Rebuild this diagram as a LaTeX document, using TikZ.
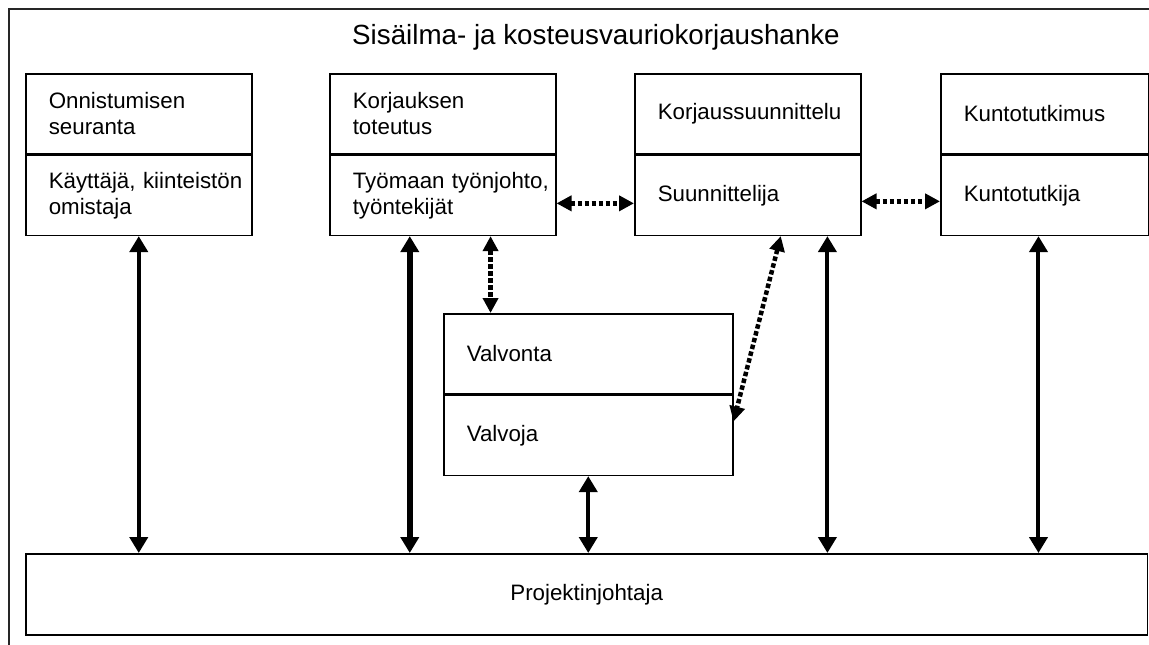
\documentclass[tikz,border=0pt]{standalone}
\usepackage{fontspec}
\setmainfont{Liberation Sans}
\usetikzlibrary{arrows.meta}
\usetikzlibrary{calc}

\begin{document}
\begin{tikzpicture}[x=0.02cm, y=-0.02cm,
    cell/.style={rectangle, draw, line width=0.9pt, anchor=north west, inner xsep=0.46cm, inner ysep=0pt,
      text width=3.6cm, minimum height=1.6cm, align=left, font=\fontsize{12.7}{14.8}\selectfont},
    link/.style={<->, >={Triangle[length=0.32cm, width=0.36cm]}, line width=0.08cm},
    talk/.style={<->, >={Triangle[length=0.3cm, width=0.3cm]}, line width=0.09cm, dash pattern=on 0.09cm off 0.05cm}]
        \clip (0,0) rectangle (1149,645);
        \draw[line width=1pt, black!85] (9,9) rectangle (1170,670);

        \node[font=\fontsize{15.8}{19}\selectfont] (hanke) at (596,37) {Sisäilma- ja kosteusvauriokorjaushanke};

        \node[cell] (seuranta) at (25,73) {Onnistumisen\\seuranta};
        \node[cell] (kayttaja) at (seuranta.south west) {\mbox{Käyttäjä, kiinteistön}\\omistaja};
        \node[cell] (toteutus) at (329,73) {Korjauksen\\toteutus};
        \node[cell] (tyonjohto) at (toteutus.south west) {\mbox{Työmaan työnjohto,}\\työntekijät};
        \node[cell] (korjaus) at (634,73) {\mbox{Korjaussuunnittelu}};
        \node[cell] (suunnittelija) at (korjaus.south west) {Suunnittelija};
        \node[cell, text width=3.24cm] (kunto) at (940,73) {Kuntotutkimus};
        \node[cell, text width=3.24cm] (tutkija) at (kunto.south west) {Kuntotutkija};
        \node[cell, text width=4.86cm] (valvonta) at (443,313) {Valvonta};
        \node[cell, text width=4.86cm] (valvoja) at (valvonta.south west) {Valvoja};
        \node[rectangle, draw, line width=0.9pt, anchor=north west, minimum width=22.44cm, minimum height=1.62cm,
          font=\fontsize{12.7}{14.8}\selectfont] (projekti) at (25,553) {Projektinjohtaja};

        \coordinate (t1) at ($(tyonjohto.south west)!0.355!(tyonjohto.south east)$);
        \coordinate (t2) at ($(tyonjohto.south west)!0.71!(tyonjohto.south east)$);
        \coordinate (s1) at ($(suunnittelija.south west)!0.645!(suunnittelija.south east)$);
        \coordinate (s2) at ($(suunnittelija.south west)!0.85!(suunnittelija.south east)$);
        \coordinate (k1) at ($(tutkija.south west)!0.47!(tutkija.south east)$);
        \coordinate (v1) at ($(valvoja.north east)!0.33!(valvoja.south east)$);

        \draw[link] (kayttaja.south) -- (kayttaja.south |- projekti.north);
        \draw[link, line width=0.11cm] (t1) -- (t1 |- projekti.north);
        \draw[link] (valvoja.south) -- (valvoja.south |- projekti.north);
        \draw[link] (s2) -- (s2 |- projekti.north);
        \draw[link] (k1) -- (k1 |- projekti.north);

        \draw[talk] ([yshift=-0.16cm]tyonjohto.east) -- ([yshift=-0.16cm]suunnittelija.west);
        \draw[talk] ([yshift=-0.12cm]suunnittelija.east) -- ([yshift=-0.12cm]tutkija.west);
        \draw[talk] (t2) -- (t2 |- valvonta.north);
        \draw[talk] (s1) -- (v1);
      \end{tikzpicture}
\end{document}
